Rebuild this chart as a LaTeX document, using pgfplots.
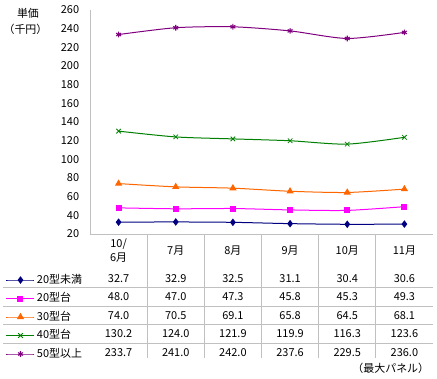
\documentclass[border=0pt]{standalone}
\usepackage{fontspec}
\setmainfont{Noto Sans CJK JP}
\usepackage{pgfplots}
\pgfplotsset{compat=1.18}
\definecolor{gridgray}{RGB}{192,192,192}
\definecolor{sNavy}{RGB}{0,0,128}
\definecolor{sMag}{RGB}{255,0,255}
\definecolor{sOrange}{RGB}{255,102,0}
\definecolor{sGreen}{RGB}{0,128,0}
\definecolor{sPurple}{RGB}{128,0,128}
\newcommand{\tf}{\fontsize{11}{13}\selectfont}
\begin{document}
\tf
\begin{tikzpicture}
\useasboundingbox (0,0) rectangle (437bp,379bp);
\begin{axis}[
  at={(90bp,145bp)}, anchor=south west,
  scale only axis, width=343bp, height=224bp,
  xmin=-0.5, xmax=5.5, ymin=20, ymax=260,
  ytick={20,40,...,260},
  xtick=\empty,
  axis x line*=bottom, axis y line*=left,
  axis line style={draw=gridgray, line width=0.9bp, -},
  major tick length=0pt,
  yticklabel style={font=\tf, xshift=-7bp},
  /pgf/number format/assume math mode=true,
  clip=false,
  every axis plot/.append style={line width=1bp, smooth, tension=0.45},
  legend image code/.code={\draw[mark repeat=2,mark phase=2,#1] plot coordinates {(0bp,0bp) (14bp,0bp) (28bp,0bp)};},
  legend cell align=left,
  legend style={at={(-0.2449,-0.1786)}, anchor=north west, draw=none, fill=none,
    inner sep=0pt, outer sep=0pt, row sep=6.5bp, font=\tf,
    nodes={inner ysep=0pt, inner xsep=2bp, text height=9bp, text depth=3bp}},
]
\addplot[color=sNavy, mark=diamond*, mark size=3bp, mark options={fill=sNavy}] coordinates {(0,32.7) (1,32.9) (2,32.5) (3,31.1) (4,30.4) (5,30.6)};
\addlegendentry{20型未満}
\addplot[color=sMag, mark=square*, mark size=2.5bp, mark options={fill=sMag}] coordinates {(0,48.0) (1,47.0) (2,47.3) (3,45.8) (4,45.3) (5,49.3)};
\addlegendentry{20型台}
\addplot[color=sOrange, mark=triangle*, mark size=3.2bp, mark options={fill=sOrange}] coordinates {(0,74.0) (1,70.5) (2,69.1) (3,65.8) (4,64.5) (5,68.1)};
\addlegendentry{30型台}
\addplot[color=sGreen, mark=x, mark size=3.2bp, mark options={line width=0.8bp}] coordinates {(0,130.2) (1,124.0) (2,121.9) (3,119.9) (4,116.3) (5,123.6)};
\addlegendentry{40型台}
\addplot[color=sPurple, mark=asterisk, mark size=2.8bp, mark options={line width=1.1bp}] coordinates {(0,233.7) (1,241.0) (2,242.0) (3,237.6) (4,229.5) (5,236.0)};
\addlegendentry{50型以上}
\end{axis}
% table grid
\foreach \k in {1,...,5} {
  \draw[gridgray, line width=0.9bp] ({90bp+57.1667bp*\k},145bp) -- ({90bp+57.1667bp*\k},21bp);
}
\foreach \yy in {91.5,73,54.5,36} {
  \draw[gridgray, line width=0.9bp] (3bp,\yy bp) -- (433bp,\yy bp);
}
% header
\node[anchor=base] at (118.6bp,131bp) {10/};
\node[anchor=base] at (118.6bp,117bp) {6月};
\foreach \m [count=\i from 1] in {7月,8月,9月,10月,11月} {
  \node[anchor=base] at ({90bp+57.1667bp*(\i+0.5)},124bp) {\m};
}
% values
\foreach \row/\yy in {{32.7,32.9,32.5,31.1,30.4,30.6}/96.5,
                      {48.0,47.0,47.3,45.8,45.3,49.3}/78,
                      {74.0,70.5,69.1,65.8,64.5,68.1}/59.5,
                      {130.2,124.0,121.9,119.9,116.3,123.6}/41,
                      {233.7,241.0,242.0,237.6,229.5,236.0}/22.5} {
  \foreach \v [count=\i from 0] in \row {
    \node[anchor=base] at ({90bp+57.1667bp*(\i+0.5)},\yy bp) {\v};
  }
}
% axis title
\node at (28bp,366bp) {単価};
\node at (25.5bp,350bp) {（千円）};
\node[anchor=base east] at (433bp,7bp) {（最大パネル）};
\end{tikzpicture}
\end{document}
